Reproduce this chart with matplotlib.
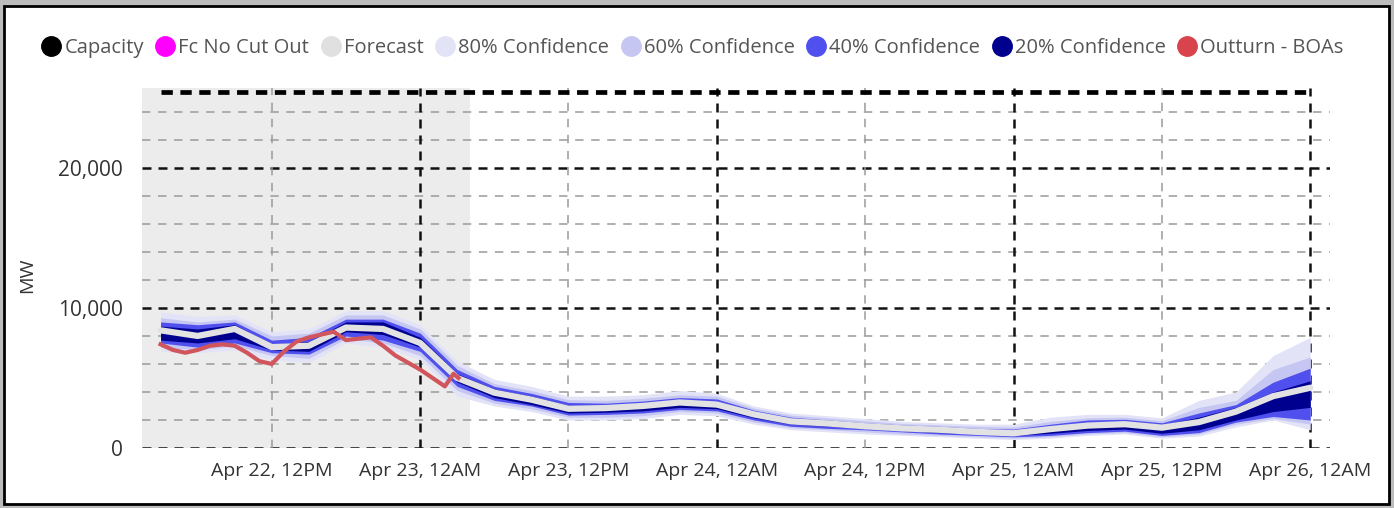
import matplotlib.pyplot as plt
import matplotlib.dates as mdates
import pandas as pd
from matplotlib.lines import Line2D
from matplotlib.patches import Rectangle
from matplotlib.ticker import FuncFormatter

plt.rcParams['font.family'] = ['Open Sans', 'DejaVu Sans']

# forecast and confidence bands, every 3 hours from Apr 22 03:00 (MW)
times = pd.date_range("2024-04-22 03:00", periods=32, freq="3h")
forecast = [8400, 8000, 8500, 7200, 7300, 8600, 8500, 7500, 5000, 3950, 3450, 2800,
            2850, 3000, 3250, 3100, 2400, 1900, 1750, 1550, 1400, 1300, 1150, 1050,
            1350, 1600, 1700, 1450, 1850, 2600, 3700, 4300]
lo80 = [6900, 6800, 7000, 6300, 6100, 7500, 7200, 6300, 3700, 3000, 2600, 2000,
        2000, 2100, 2400, 2300, 1700, 1300, 1150, 1000, 900, 800, 700, 600,
        700, 900, 1000, 700, 850, 1500, 2000, 1300]
lo60 = [7200, 7000, 7300, 6600, 6400, 7800, 7500, 6600, 4100, 3200, 2800, 2200,
        2200, 2300, 2600, 2500, 1850, 1450, 1300, 1150, 1000, 900, 800, 700,
        800, 1000, 1100, 800, 1000, 1700, 2100, 1700]
lo40 = [7500, 7200, 7500, 6800, 6700, 8000, 7700, 6900, 4400, 3400, 3000, 2350,
        2400, 2500, 2750, 2650, 2000, 1550, 1400, 1300, 1150, 1000, 900, 800,
        900, 1100, 1200, 900, 1100, 1850, 2250, 2000]
lo20 = [7700, 7500, 7800, 7000, 6900, 8300, 8100, 7200, 4700, 3600, 3100, 2500,
        2550, 2650, 2900, 2800, 2150, 1700, 1550, 1400, 1250, 1100, 1000, 900,
        1050, 1250, 1350, 1050, 1300, 2000, 2600, 2900]
hi20 = [8700, 8500, 8800, 7400, 7600, 9000, 9000, 7900, 5300, 4200, 3700, 3050,
        3050, 3200, 3450, 3300, 2550, 2050, 1900, 1700, 1550, 1400, 1300, 1200,
        1550, 1800, 1900, 1650, 2200, 2900, 4000, 4800]
hi40 = [9000, 8800, 9000, 7700, 7900, 9200, 9200, 8200, 5600, 4400, 3900, 3250,
        3200, 3350, 3600, 3500, 2700, 2200, 2000, 1800, 1650, 1550, 1400, 1350,
        1700, 2000, 2050, 1800, 2500, 3100, 4700, 5700]
hi60 = [9300, 9000, 9200, 8000, 8200, 9500, 9500, 8500, 5900, 4600, 4100, 3450,
        3400, 3550, 3800, 3700, 2850, 2350, 2150, 1950, 1750, 1650, 1550, 1500,
        1900, 2150, 2200, 1950, 2900, 3400, 5600, 6500]
hi80 = [9700, 9400, 9500, 8300, 8500, 9800, 9800, 8800, 6200, 4900, 4400, 3700,
        3700, 3800, 4100, 3900, 3000, 2500, 2300, 2100, 1900, 1800, 1700, 1700,
        2200, 2400, 2400, 2150, 3400, 4000, 6600, 7900]

# outturn, hours after Apr 22 00:00
out_hours = [3, 4, 5, 6, 7, 8, 9, 10, 11, 12, 13, 14, 15, 16, 17, 18, 19, 20,
             21, 22, 23, 24, 25, 26, 26.7, 27.1]
outturn = [7400, 7000, 6800, 7000, 7300, 7400, 7300, 6800, 6200, 6000, 6900, 7600,
           7900, 8100, 8300, 7700, 7800, 7900, 7300, 6600, 6100, 5600, 5000, 4400,
           5300, 5000]
out_times = pd.Timestamp("2024-04-22") + pd.to_timedelta(out_hours, unit="h")

cap_times = [times[0], times[-1]]
capacity = [25400, 25400]

tick_times = pd.date_range("2024-04-22 12:00", periods=8, freq="12h")
y_grid = list(range(0, 24001, 2000))
y_ticks = [0, 10000, 20000]

c80, c60, c40, c20 = '#e3e3f8', '#c6c6f3', '#5050ee', '#00008e'

fig = plt.figure(figsize=(13.94, 5.08), dpi=100, facecolor='#bcbcbc')
fig.patches.append(Rectangle((4 / 1394, 4 / 508), 1385 / 1394, 498 / 508,
                             transform=fig.transFigure, facecolor='white',
                             edgecolor='black', linewidth=2, zorder=-1))
ax = fig.add_axes([142 / 1394, 60 / 508, 1188 / 1394, 360 / 508])
ax.set_facecolor('none')

x0 = pd.Timestamp("2024-04-22 01:30")
x1 = pd.Timestamp("2024-04-26 01:36")
ax.set_xlim(x0, x1)
ax.set_ylim(0, 25700)

# shaded history region
ax.axvspan(x0, pd.Timestamp("2024-04-23 04:00"), color='#ececec', lw=0, zorder=0)

# gridlines
for y in y_grid:
    if y % 10000 == 0:
        ax.axhline(y, color='#111111', lw=1.8, ls=(0, (3.6, 2.8)), zorder=1)
    else:
        ax.axhline(y, color='#9a9a9a', lw=1.1, ls=(0, (5.5, 5)), zorder=1)
for t in tick_times:
    if t.hour == 0:
        ax.axvline(t, color='#111111', lw=1.8, ls=(0, (3.6, 2.8)), zorder=1)
    else:
        ax.axvline(t, color='#9a9a9a', lw=1.1, ls=(0, (5.5, 5)), zorder=1)

# confidence fan
for lo, hi, c in [(lo80, hi80, c80), (lo60, hi60, c60), (lo40, hi40, c40), (lo20, hi20, c20)]:
    ax.fill_between(times, lo, hi, color=c, lw=0, zorder=2)
ax.plot(times, forecast, color='#e2e2e2', lw=4.5, zorder=3, solid_capstyle='round')
ax.plot(out_times, outturn, color='#d0555d', lw=3, zorder=4, solid_joinstyle='round')
ax.plot(cap_times, capacity, color='black', lw=3.4, ls=(0, (2.4, 1.6)), zorder=4)

ax.set_xticks(tick_times)
ax.xaxis.set_major_formatter(mdates.DateFormatter('%b %d, %I%p'))
ax.set_yticks(y_ticks)
ax.yaxis.set_major_formatter(FuncFormatter(lambda v, p: f"{int(v):,}"))
ax.tick_params(length=0, labelcolor='#333333')
ax.tick_params(axis='y', pad=14, labelsize=15)
ax.tick_params(axis='x', pad=10, labelsize=14)
for s in ax.spines.values():
    s.set_visible(False)

fig.text(27 / 1394, 1 - 275 / 508, 'MW', rotation=90, ha='center', va='center',
         fontsize=14, color='#333333')

handles = [Line2D([], [], ls='none', marker='o', ms=14, color=c) for c in
           ['black', '#ff00ff', '#e0e0e0', c80, c60, c40, c20, '#d9434e']]
labels = ['Capacity', 'Fc No Cut Out', 'Forecast', '80% Confidence', '60% Confidence',
          '40% Confidence', '20% Confidence', 'Outturn - BOAs']
fig.legend(handles, labels, loc='center left', bbox_to_anchor=(20 / 1394, 1 - 48 / 508),
           ncol=8, frameon=False, handletextpad=0.0, columnspacing=0.42,
           handlelength=1.3, prop={'size': 14.5}, labelcolor='#555555')

fig.savefig('out.png', dpi=100, facecolor=fig.get_facecolor())
